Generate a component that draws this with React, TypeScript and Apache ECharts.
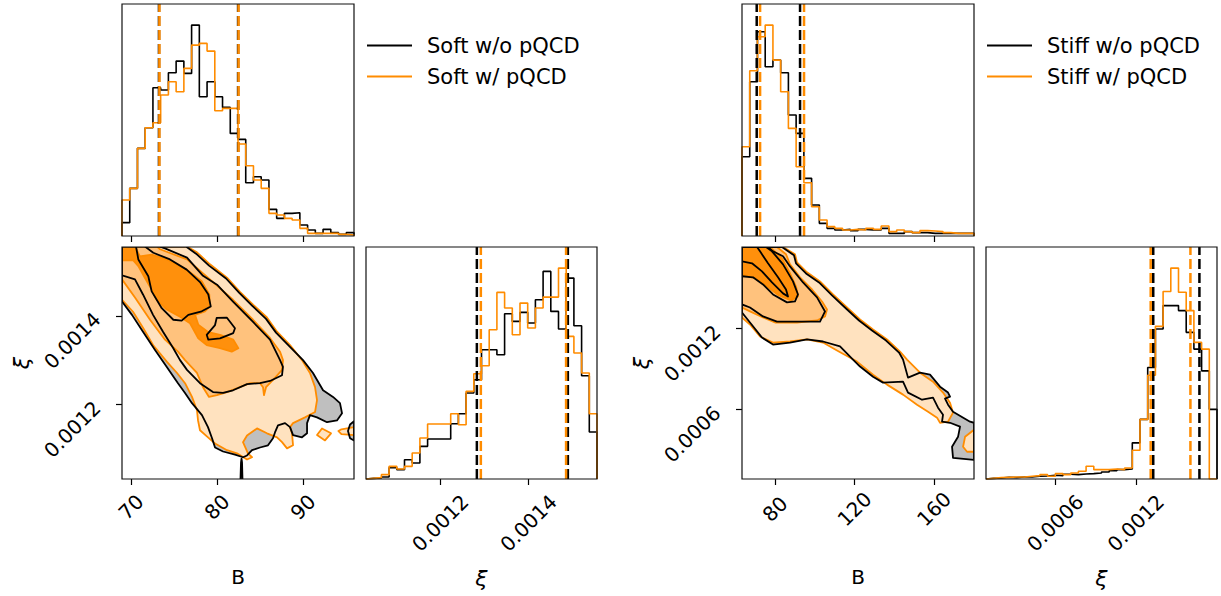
import React, { useEffect, useRef } from "react";
import * as echarts from "echarts";

type Pt = [number, number];

const FONT = "DejaVu Sans";
const ORANGE = "#ff8c00";
const BLACK = "#000000";
const FILL_LIGHT = "#ffe2bf";
const FILL_MED = "#ffc27d";
const FILL_DARK = "#ff900c";
const FILL_GRAY = "#bfbfbf";

// ---------- axis ranges and ticks ----------
const softBRange: Pt = [68.95, 95.93];
const softXiRange: Pt = [0.001032, 0.001555];
const stiffBRange: Pt = [63.4, 180.1];
const stiffXiRange: Pt = [0.000084, 0.001805];

const softBTicks = [70, 80, 90];
const softXiTicks = [0.0012, 0.0014];
const stiffBTicks = [80, 120, 160];
const stiffXiTicks = [0.0006, 0.0012];

const softNames = ["Soft w/o pQCD", "Soft w/ pQCD"];
const stiffNames = ["Stiff w/o pQCD", "Stiff w/ pQCD"];

// ---------- 1D histograms (30 bins over the axis range) ----------
const softBNoPQCD = [40, 143, 263, 325, 445, 438, 490, 525, 488, 633, 418, 463, 418, 386, 308, 290, 160, 178, 168, 80, 53, 68, 70, 33, 18, 8, 20, 10, 5, 10];
const softBPQCD = [108, 143, 263, 325, 340, 423, 463, 433, 503, 573, 578, 555, 376, 383, 383, 276, 211, 168, 143, 68, 63, 53, 48, 23, 8, 8, 8, 8, 5, 3];
const softXiNoPQCD = [2, 3, 6, 34, 28, 58, 48, 98, 120, 120, 120, 166, 196, 258, 298, 388, 388, 373, 496, 473, 500, 468, 538, 623, 503, 450, 603, 460, 310, 141];
const softXiPQCD = [2, 4, 13, 38, 30, 38, 78, 123, 165, 165, 165, 196, 163, 263, 316, 340, 448, 560, 513, 433, 528, 453, 513, 546, 546, 633, 428, 378, 318, 196];

const stiffBNoPQCD = [238, 463, 613, 508, 528, 490, 363, 308, 173, 93, 38, 23, 18, 20, 16, 20, 18, 18, 23, 8, 8, 13, 10, 10, 8, 8, 8, 8, 8, 8];
const stiffBPQCD = [268, 496, 598, 633, 528, 433, 323, 208, 160, 88, 48, 28, 23, 18, 20, 18, 23, 20, 30, 13, 18, 13, 10, 16, 15, 13, 10, 8, 8, 8];
const stiffXiNoPQCD = [2, 3, 5, 4, 6, 6, 8, 9, 11, 10, 14, 13, 15, 16, 18, 21, 25, 28, 30, 108, 178, 333, 448, 518, 518, 503, 438, 388, 323, 208];
const stiffXiPQCD = [2, 4, 5, 6, 6, 8, 10, 13, 8, 16, 13, 18, 23, 38, 28, 28, 30, 28, 33, 86, 178, 310, 456, 560, 630, 558, 503, 408, 388, 0];

// ---------- quantile (dashed) lines ----------
const softBQuantNoPQCD = [73.25, 82.45];
const softBQuantPQCD = [73.3, 82.5];
const softXiQuantNoPQCD = [0.001283, 0.001489];
const softXiQuantPQCD = [0.001292, 0.001485];
const stiffBQuantNoPQCD = [70.8, 92.6];
const stiffBQuantPQCD = [72.5, 94.6];
const stiffXiQuantNoPQCD = [0.00133, 0.001674];
const stiffXiQuantPQCD = [0.001311, 0.001607];

// ---------- 2D contours, soft (B, xi) ----------
const softOuterNoPQCD: Pt[] = [[68.95,1.556e-3],[76.39,1.556e-3],[77.56,1.540e-3],[79.07,1.513e-3],[81.05,1.484e-3],[82.56,1.452e-3],[84.07,1.423e-3],[85.70,1.393e-3],[86.86,1.362e-3],[88.37,1.332e-3],[90.00,1.300e-3],[91.16,1.271e-3],[92.33,1.232e-3],[93.49,1.217e-3],[94.30,1.203e-3],[94.54,1.180e-3],[93.95,1.164e-3],[92.79,1.160e-3],[91.63,1.171e-3],[90.81,1.176e-3],[90.47,1.158e-3],[90.47,1.135e-3],[89.88,1.126e-3],[88.84,1.131e-3],[88.49,1.149e-3],[87.91,1.158e-3],[87.09,1.153e-3],[86.74,1.137e-3],[86.51,1.124e-3],[85.93,1.108e-3],[85.00,1.103e-3],[84.07,1.097e-3],[83.49,1.085e-3],[83.02,1.081e-3],[82.09,1.087e-3],[80.70,1.094e-3],[79.77,1.103e-3],[79.42,1.124e-3],[78.95,1.149e-3],[78.25,1.176e-3],[77.09,1.203e-3],[76.28,1.226e-3],[75.46,1.248e-3],[74.18,1.284e-3],[72.79,1.323e-3],[71.39,1.364e-3],[70.11,1.402e-3],[68.95,1.432e-3]];
const softIslandNoPQCD: Pt[] = [[95.93,1.162e-3],[95.47,1.155e-3],[95.23,1.140e-3],[95.47,1.124e-3],[95.93,1.119e-3]];
const softSpikeNoPQCD: Pt[] = [[82.73,1.031e-3],[82.79,1.069e-3],[82.85,1.078e-3],[82.91,1.069e-3],[82.96,1.031e-3]];
const softLevel2NoPQCD: Pt[] = [[68.95,1.491e-3],[70.46,1.482e-3],[71.39,1.448e-3],[72.56,1.402e-3],[73.72,1.364e-3],[74.88,1.328e-3],[75.70,1.300e-3],[76.51,1.278e-3],[78.02,1.248e-3],[79.53,1.228e-3],[80.70,1.226e-3],[81.86,1.232e-3],[83.49,1.246e-3],[85.00,1.248e-3],[86.16,1.253e-3],[87.56,1.266e-3],[87.67,1.285e-3],[87.33,1.300e-3],[86.16,1.346e-3],[84.19,1.386e-3],[81.86,1.432e-3],[80.00,1.470e-3],[78.37,1.490e-3],[76.51,1.531e-3],[73.95,1.552e-3],[73.37,1.556e-3]];
const softLevel1NoPQCD: Pt[] = [[70.58,1.556e-3],[70.85,1.527e-3],[72.01,1.489e-3],[72.40,1.455e-3],[73.57,1.417e-3],[74.92,1.391e-3],[75.89,1.389e-3],[76.66,1.402e-3],[78.22,1.410e-3],[79.27,1.421e-3],[78.99,1.448e-3],[78.02,1.476e-3],[76.47,1.504e-3],[74.53,1.527e-3],[72.59,1.542e-3],[71.62,1.556e-3]];
const softPeakNoPQCD: Pt[] = [[79.96,1.395e-3],[81.13,1.396e-3],[82.09,1.372e-3],[81.89,1.361e-3],[80.35,1.349e-3],[78.99,1.346e-3],[78.80,1.357e-3],[79.77,1.379e-3],[79.96,1.395e-3]];

const softOuterPQCD: Pt[] = [[68.95,1.556e-3],[76.51,1.556e-3],[77.67,1.543e-3],[79.18,1.516e-3],[81.16,1.486e-3],[82.67,1.454e-3],[84.19,1.425e-3],[85.81,1.396e-3],[86.98,1.364e-3],[88.49,1.334e-3],[89.88,1.300e-3],[90.81,1.271e-3],[91.40,1.239e-3],[91.63,1.210e-3],[91.40,1.183e-3],[90.23,1.171e-3],[88.84,1.158e-3],[88.49,1.149e-3],[88.72,1.135e-3],[88.84,1.108e-3],[88.14,1.101e-3],[87.56,1.115e-3],[86.98,1.126e-3],[85.81,1.135e-3],[84.65,1.146e-3],[83.49,1.130e-3],[83.02,1.115e-3],[83.60,1.090e-3],[84.07,1.081e-3],[83.49,1.076e-3],[82.32,1.090e-3],[81.16,1.097e-3],[79.77,1.112e-3],[78.95,1.126e-3],[78.02,1.142e-3],[77.79,1.164e-3],[77.67,1.187e-3],[77.09,1.217e-3],[76.28,1.248e-3],[75.35,1.271e-3],[74.18,1.296e-3],[72.56,1.334e-3],[71.39,1.373e-3],[70.23,1.409e-3],[68.95,1.436e-3]];
const softIslandAPQCD: Pt[] = [[91.63,1.131e-3],[92.21,1.146e-3],[93.26,1.135e-3],[92.56,1.119e-3]];
const softIslandBPQCD: Pt[] = [[95.93,1.149e-3],[94.47,1.144e-3],[94.12,1.140e-3],[94.47,1.133e-3],[95.93,1.131e-3]];
const softMidPQCD: Pt[] = [[68.95,1.556e-3],[73.02,1.556e-3],[73.37,1.550e-3],[76.51,1.527e-3],[79.18,1.482e-3],[81.86,1.436e-3],[84.19,1.391e-3],[86.16,1.350e-3],[87.33,1.319e-3],[87.67,1.300e-3],[87.56,1.278e-3],[86.74,1.260e-3],[85.70,1.239e-3],[85.46,1.221e-3],[85.35,1.239e-3],[85.00,1.248e-3],[83.84,1.248e-3],[82.67,1.239e-3],[81.16,1.228e-3],[79.99,1.221e-3],[79.07,1.217e-3],[78.37,1.239e-3],[77.67,1.271e-3],[76.28,1.300e-3],[75.46,1.319e-3],[73.95,1.346e-3],[72.21,1.391e-3],[70.46,1.441e-3],[68.95,1.482e-3]];
const softInnerPQCD: Pt[] = [[68.95,1.556e-3],[70.46,1.556e-3],[71.04,1.534e-3],[72.40,1.538e-3],[74.15,1.527e-3],[76.47,1.504e-3],[78.22,1.478e-3],[79.10,1.448e-3],[79.18,1.421e-3],[78.60,1.410e-3],[77.44,1.402e-3],[77.82,1.380e-3],[78.99,1.363e-3],[80.35,1.357e-3],[81.89,1.346e-3],[82.48,1.327e-3],[81.71,1.319e-3],[80.35,1.327e-3],[78.80,1.334e-3],[77.82,1.349e-3],[76.86,1.383e-3],[75.69,1.398e-3],[74.15,1.414e-3],[72.99,1.436e-3],[72.40,1.459e-3],[71.62,1.485e-3],[70.85,1.512e-3],[70.26,1.525e-3],[68.95,1.525e-3]];

// ---------- 2D contours, stiff (B, xi) ----------
const stiffOuterNoPQCD: Pt[] = [[63.40,1.805e-3],[83.52,1.805e-3],[89.56,1.743e-3],[90.57,1.684e-3],[95.60,1.609e-3],[102.14,1.542e-3],[108.68,1.446e-3],[115.72,1.349e-3],[122.26,1.260e-3],[128.80,1.185e-3],[135.85,1.111e-3],[142.39,1.022e-3],[144.40,0.970e-3],[146.91,0.836e-3],[152.95,0.873e-3],[157.98,0.858e-3],[163.01,0.769e-3],[167.04,0.725e-3],[168.04,0.695e-3],[165.53,0.680e-3],[167.04,0.635e-3],[169.55,0.583e-3],[178.11,0.509e-3],[180.1,0.501e-3],[180.1,0.226e-3],[169.55,0.241e-3],[169.05,0.323e-3],[172.07,0.397e-3],[173.08,0.472e-3],[168.04,0.501e-3],[164.02,0.509e-3],[164.52,0.561e-3],[162.01,0.613e-3],[159.49,0.687e-3],[153.96,0.672e-3],[146.91,0.725e-3],[144.40,0.806e-3],[134.34,0.799e-3],[129.31,0.843e-3],[122.77,0.918e-3],[119.24,0.970e-3],[112.70,1.067e-3],[104.15,1.104e-3],[96.10,1.119e-3],[87.55,1.096e-3],[78.99,1.081e-3],[73.46,1.133e-3],[67.42,1.245e-3],[63.40,1.319e-3]];
const stiffLevel2NoPQCD: Pt[] = [[63.40,1.379e-3],[67.42,1.356e-3],[73.97,1.290e-3],[81.01,1.252e-3],[102.64,1.252e-3],[105.16,1.327e-3],[101.13,1.431e-3],[94.09,1.542e-3],[87.55,1.661e-3],[84.03,1.736e-3],[78.99,1.773e-3],[76.48,1.805e-3]];
const stiffLevel1NoPQCD: Pt[] = [[75.5,1.805e-3],[78.49,1.773e-3],[84.03,1.676e-3],[89.06,1.550e-3],[91.57,1.453e-3],[90.06,1.401e-3],[86.04,1.394e-3],[78.99,1.453e-3],[73.97,1.527e-3],[68.93,1.580e-3],[63.40,1.588e-3]];
const stiffLevel0NoPQCD: Pt[] = [[63.40,1.698e-3],[68.43,1.684e-3],[73.46,1.624e-3],[78.49,1.542e-3],[84.03,1.461e-3],[86.54,1.438e-3],[85.54,1.490e-3],[81.51,1.580e-3],[76.48,1.684e-3],[72.46,1.773e-3],[70.95,1.805e-3]];

const stiffOuterPQCD: Pt[] = [[63.40,1.805e-3],[84.03,1.805e-3],[90.06,1.751e-3],[91.07,1.691e-3],[96.10,1.617e-3],[102.64,1.550e-3],[109.18,1.453e-3],[116.22,1.356e-3],[122.77,1.267e-3],[129.31,1.193e-3],[136.35,1.119e-3],[142.89,1.029e-3],[146.41,0.970e-3],[152.95,0.873e-3],[159.49,0.806e-3],[164.52,0.725e-3],[168.04,0.650e-3],[169.55,0.576e-3],[167.04,0.509e-3],[163.01,0.501e-3],[161.50,0.539e-3],[156.98,0.583e-3],[151.44,0.635e-3],[144.40,0.710e-3],[136.35,0.784e-3],[129.31,0.858e-3],[121.26,0.955e-3],[111.19,1.037e-3],[104.15,1.096e-3],[96.10,1.119e-3],[87.55,1.104e-3],[78.99,1.096e-3],[72.46,1.141e-3],[67.42,1.230e-3],[63.40,1.282e-3]];
const stiffIslandPQCD: Pt[] = [[180.1,0.449e-3],[175.6,0.397e-3],[174.6,0.323e-3],[176.6,0.286e-3],[180.1,0.286e-3]];
const stiffMidPQCD: Pt[] = [[63.40,1.805e-3],[81.0,1.805e-3],[85.54,1.751e-3],[87.55,1.676e-3],[92.58,1.580e-3],[98.62,1.490e-3],[103.65,1.401e-3],[106.16,1.342e-3],[105.16,1.290e-3],[101.13,1.260e-3],[91.07,1.245e-3],[80.01,1.245e-3],[73.97,1.282e-3],[67.42,1.327e-3],[63.40,1.356e-3]];
const stiffInnerPQCD: Pt[] = [[63.40,1.805e-3],[77.5,1.805e-3],[83.52,1.720e-3],[87.55,1.610e-3],[90.57,1.512e-3],[91.57,1.440e-3],[88.05,1.408e-3],[81.51,1.450e-3],[75.47,1.520e-3],[69.94,1.575e-3],[63.40,1.600e-3]];

// ---------- layout ----------
const GRIDS = [
  { left: 122, top: 4, width: 232, height: 232 },
  { left: 122, top: 247, width: 232, height: 232 },
  { left: 366, top: 247, width: 231, height: 232 },
  { left: 742, top: 4, width: 232, height: 232 },
  { left: 742, top: 247, width: 232, height: 232 },
  { left: 986, top: 247, width: 231, height: 232 },
];

const fmtXi = (v: number) => Number(v).toFixed(4);
const fmtB = (v: number) => String(Math.round(Number(v)));

function stepData(counts: number[], range: Pt): Pt[] {
  const n = counts.length;
  const w = (range[1] - range[0]) / n;
  const pts: Pt[] = [[range[0], 0]];
  counts.forEach((c, i) => pts.push([range[0] + i * w, c]));
  pts.push([range[1], counts[n - 1]]);
  pts.push([range[1], 0]);
  return pts;
}

function histSeries(name: string, counts: number[], range: Pt, color: string, idx: number) {
  return {
    type: "line", name, step: "end", data: stepData(counts, range),
    symbol: "none", showSymbol: false, clip: true, silent: true,
    xAxisIndex: idx, yAxisIndex: idx,
    lineStyle: { color, width: 1.6 }, itemStyle: { color }, z: 3,
  };
}

function vlineSeries(xs: number[], yMax: number, color: string, idx: number) {
  return {
    type: "custom", xAxisIndex: idx, yAxisIndex: idx, clip: true, silent: true, z: 4,
    data: xs.map((x) => [x, 0]),
    renderItem: (params: any, api: any) => {
      const x = xs[params.dataIndex];
      const a = api.coord([x, 0]);
      const b = api.coord([x, yMax]);
      return { type: "line", shape: { x1: a[0], y1: a[1], x2: b[0], y2: b[1] }, style: { stroke: color, lineWidth: 2.5, lineDash: [10, 4] } };
    },
  };
}

function polySeries(polys: Pt[][], idx: number, style: any, kind: "polygon" | "polyline", z: number) {
  return {
    type: "custom", xAxisIndex: idx, yAxisIndex: idx, clip: true, silent: true, z,
    data: polys.map((p) => p[0]),
    renderItem: (params: any, api: any) => {
      const pts = polys[params.dataIndex].map((pt) => api.coord(pt));
      return { type: kind, shape: { points: pts }, style };
    },
  };
}

const labelStyle = { fontFamily: FONT, fontSize: 20, color: "#000" };

function xAx(gridIndex: number, range: Pt, ticks: number[], showLabels: boolean, name: string, fmt: any, margin: number) {
  return {
    type: "value", gridIndex, min: range[0], max: range[1],
    axisLine: { show: false }, splitLine: { show: false },
    axisTick: { show: true, customValues: ticks, length: 6, lineStyle: { color: "#000", width: 1.2 } },
    axisLabel: { show: showLabels, customValues: ticks, formatter: fmt, rotate: 45, align: "center", verticalAlign: "middle", margin, ...labelStyle },
    name, nameLocation: "middle", nameGap: 88,
    nameTextStyle: { ...labelStyle, fontSize: name === "ξ" ? 22 : 20, fontStyle: name === "ξ" ? "italic" : "normal" },
  };
}

function yAx(gridIndex: number, range: Pt, ticks: number[]) {
  return {
    type: "value", gridIndex, min: range[0], max: range[1],
    axisLine: { show: false }, splitLine: { show: false },
    axisTick: { show: true, customValues: ticks, length: 6, lineStyle: { color: "#000", width: 1.2 } },
    axisLabel: { show: true, customValues: ticks, formatter: fmtXi, rotate: 45, margin: 25, ...labelStyle },
    name: "ξ", nameLocation: "middle", nameGap: 90, nameRotate: 90,
    nameTextStyle: { ...labelStyle, fontSize: 22, fontStyle: "italic" },
  };
}

function hiddenY(gridIndex: number, max: number) {
  return { type: "value", gridIndex, min: 0, max, show: false, splitLine: { show: false } };
}

type Corner = {
  names: string[]; bRange: Pt; xiRange: Pt; bTicks: number[]; xiTicks: number[]; bMargin: number;
  bHist: number[][]; xiHist: number[][]; bQuant: number[][]; xiQuant: number[][];
  grayPolys: Pt[][]; blackLines: Pt[][]; blackLoops: Pt[][];
  lightPolys: Pt[][]; medPolys: Pt[][]; darkPolys: Pt[][];
};

function buildCorner(c: Corner, g0: number) {
  const maxB = 1.1 * Math.max(...c.bHist[0], ...c.bHist[1]);
  const maxXi = 1.1 * Math.max(...c.xiHist[0], ...c.xiHist[1]);
  const xAxis = [
    xAx(g0, c.bRange, c.bTicks, false, "", fmtB, 0),
    xAx(g0 + 1, c.bRange, c.bTicks, true, "B", fmtB, c.bMargin),
    xAx(g0 + 2, c.xiRange, c.xiTicks, true, "ξ", fmtXi, 44),
  ];
  const yAxis = [hiddenY(g0, maxB), yAx(g0 + 1, c.xiRange, c.xiTicks), hiddenY(g0 + 2, maxXi)];
  const orangeLine = { stroke: ORANGE, lineWidth: 1.8, lineJoin: "round" };
  const series: any[] = [
    histSeries(c.names[0], c.bHist[0], c.bRange, BLACK, g0),
    histSeries(c.names[1], c.bHist[1], c.bRange, ORANGE, g0),
    vlineSeries(c.bQuant[0], maxB, BLACK, g0),
    vlineSeries(c.bQuant[1], maxB, ORANGE, g0),
    // 2D
    polySeries(c.grayPolys, g0 + 1, { fill: FILL_GRAY, stroke: "none" }, "polygon", 2),
    polySeries(c.lightPolys, g0 + 1, { fill: FILL_LIGHT, ...orangeLine }, "polygon", 2),
    polySeries(c.medPolys, g0 + 1, { fill: FILL_MED, ...orangeLine }, "polygon", 2),
    polySeries(c.darkPolys, g0 + 1, { fill: FILL_DARK, ...orangeLine }, "polygon", 2),
    polySeries(c.grayPolys, g0 + 1, { fill: "none", stroke: BLACK, lineWidth: 1.8, lineJoin: "round" }, "polygon", 3),
    polySeries(c.blackLines, g0 + 1, { fill: "none", stroke: BLACK, lineWidth: 1.8, lineJoin: "round" }, "polyline", 3),
    polySeries(c.blackLoops, g0 + 1, { fill: "none", stroke: BLACK, lineWidth: 1.8, lineJoin: "round" }, "polygon", 3),
    // xi hist
    histSeries(c.names[0] + " ξ", c.xiHist[0], c.xiRange, BLACK, g0 + 2),
    histSeries(c.names[1] + " ξ", c.xiHist[1], c.xiRange, ORANGE, g0 + 2),
    vlineSeries(c.xiQuant[0], maxXi, BLACK, g0 + 2),
    vlineSeries(c.xiQuant[1], maxXi, ORANGE, g0 + 2),
  ];
  return { xAxis, yAxis, series };
}

const softCorner: Corner = {
  names: softNames, bRange: softBRange, xiRange: softXiRange, bTicks: softBTicks, xiTicks: softXiTicks, bMargin: 28,
  bHist: [softBNoPQCD, softBPQCD], xiHist: [softXiNoPQCD, softXiPQCD],
  bQuant: [softBQuantNoPQCD, softBQuantPQCD], xiQuant: [softXiQuantNoPQCD, softXiQuantPQCD],
  grayPolys: [softOuterNoPQCD, softIslandNoPQCD, softSpikeNoPQCD],
  blackLines: [softLevel2NoPQCD, softLevel1NoPQCD],
  blackLoops: [softPeakNoPQCD],
  lightPolys: [softOuterPQCD, softIslandAPQCD, softIslandBPQCD],
  medPolys: [softMidPQCD],
  darkPolys: [softInnerPQCD],
};

const stiffCorner: Corner = {
  names: stiffNames, bRange: stiffBRange, xiRange: stiffXiRange, bTicks: stiffBTicks, xiTicks: stiffXiTicks, bMargin: 30,
  bHist: [stiffBNoPQCD, stiffBPQCD], xiHist: [stiffXiNoPQCD, stiffXiPQCD],
  bQuant: [stiffBQuantNoPQCD, stiffBQuantPQCD], xiQuant: [stiffXiQuantNoPQCD, stiffXiQuantPQCD],
  grayPolys: [stiffOuterNoPQCD],
  blackLines: [stiffLevel2NoPQCD, stiffLevel1NoPQCD, stiffLevel0NoPQCD],
  blackLoops: [],
  lightPolys: [stiffOuterPQCD, stiffIslandPQCD],
  medPolys: [stiffMidPQCD],
  darkPolys: [stiffInnerPQCD],
};

function legendFor(names: string[], left: number) {
  return {
    data: names, left, top: 30, orient: "vertical", icon: "rect",
    itemWidth: 45, itemHeight: 2, itemGap: 10, selectedMode: false,
    textStyle: { ...labelStyle, fontSize: 21, padding: [0, 0, 0, 10], lineHeight: 20 },
  };
}

export default function App() {
  const ref = useRef<HTMLDivElement>(null);
  useEffect(() => {
    if (!ref.current) return;
    const chart = echarts.init(ref.current, undefined, { renderer: "svg" });
    const a = buildCorner(softCorner, 0);
    const b = buildCorner(stiffCorner, 3);
    chart.setOption({
      animation: false,
      backgroundColor: "#ffffff",
      grid: GRIDS.map((g) => ({ ...g, show: false, containLabel: false })),
      xAxis: [...a.xAxis, ...b.xAxis],
      yAxis: [...a.yAxis, ...b.yAxis],
      legend: [legendFor(softNames, 362), legendFor(stiffNames, 982)],
      series: [...a.series, ...b.series],
      graphic: GRIDS.map((g) => ({
        type: "rect", silent: true, z: 100,
        shape: { x: g.left, y: g.top, width: g.width, height: g.height },
        style: { fill: "none", stroke: "#111", lineWidth: 1.2 },
      })),
    });
    return () => chart.dispose();
  }, []);
  return <div ref={ref} style={{ position: "absolute", left: 0, top: 0, width: 1221, height: 596 }} />;
}
